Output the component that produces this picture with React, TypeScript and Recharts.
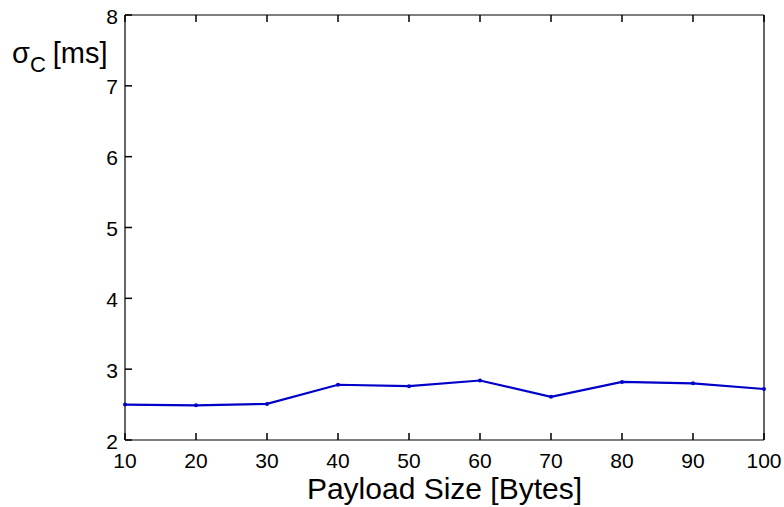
import React from 'react';
import { LineChart, Line, XAxis, YAxis } from 'recharts';

// payload size [bytes]
const payloadSizes = [10, 20, 30, 40, 50, 60, 70, 80, 90, 100];
// sigma_C [ms]
const sigmaC = [2.5, 2.49, 2.51, 2.78, 2.76, 2.84, 2.61, 2.82, 2.8, 2.72];

const xTicks = [10, 20, 30, 40, 50, 60, 70, 80, 90, 100];
const yTicks = [2, 3, 4, 5, 6, 7, 8];

const data = payloadSizes.map((size, i) => ({ size, sigma: sigmaC[i] }));

const FONT = '"Liberation Sans", Arial, Helvetica, sans-serif';
const LINE_COLOR = '#0000c8';
const TICK_LEN = 7;
const axisLine = { stroke: '#000', strokeWidth: 1.2 };

// MATLAB-style ticks: short marks pointing into the plot box
const BottomTick = (props: any) => {
  const { x, y, payload } = props;
  return (
    <g>
      <line x1={x} y1={y} x2={x} y2={y - TICK_LEN} stroke="#000" strokeWidth={1.5} />
      <text x={x} y={y + 28} textAnchor="middle" fontFamily={FONT} fontSize={21} fill="#000">
        {payload.value}
      </text>
    </g>
  );
};

const TopTick = (props: any) => {
  const { x, y } = props;
  return <line x1={x} y1={y} x2={x} y2={y + TICK_LEN} stroke="#000" strokeWidth={1.5} />;
};

const LeftTick = (props: any) => {
  const { x, y, payload } = props;
  return (
    <g>
      <line x1={x} y1={y} x2={x + TICK_LEN} y2={y} stroke="#000" strokeWidth={1.5} />
      <text x={x - 7} y={y + 8.5} textAnchor="end" fontFamily={FONT} fontSize={21} fill="#000">
        {payload.value}
      </text>
    </g>
  );
};

const RightTick = (props: any) => {
  const { x, y } = props;
  return <line x1={x} y1={y} x2={x - TICK_LEN} y2={y} stroke="#000" strokeWidth={1.5} />;
};

const YLabel = () => (
  <text x={12} y={63} fontFamily={FONT} fontSize={29} fill="#000">
    <tspan>σ</tspan>
    <tspan fontSize={22} dy={9}>C</tspan>
    <tspan dy={-9} dx={7}>[ms]</tspan>
  </text>
);

export default function App() {
  return (
    <div style={{ position: 'absolute', left: 0, top: 0, background: '#fff' }}>
      <LineChart
        width={784}
        height={507}
        data={data}
        margin={{ top: 14, right: 19, bottom: 0, left: 0 }}
      >
        <XAxis
          xAxisId="bottom"
          dataKey="size"
          type="number"
          domain={[10, 100]}
          ticks={xTicks}
          height={67}
          axisLine={axisLine}
          tickLine={false}
          tickSize={0}
          tickMargin={0}
          tick={<BottomTick />}
          label={{
            value: 'Payload Size [Bytes]',
            position: 'insideBottom',
            offset: 8,
            fill: '#000',
            fontSize: 30,
            fontFamily: FONT,
          }}
        />
        <XAxis
          xAxisId="top"
          orientation="top"
          dataKey="size"
          type="number"
          domain={[10, 100]}
          ticks={xTicks}
          height={1}
          axisLine={axisLine}
          tickLine={false}
          tickSize={0}
          tickMargin={0}
          tick={<TopTick />}
        />
        <YAxis
          yAxisId="left"
          type="number"
          domain={[2, 8]}
          ticks={yTicks}
          width={125}
          axisLine={axisLine}
          tickLine={false}
          tickSize={0}
          tickMargin={0}
          tick={<LeftTick />}
          label={{ content: <YLabel /> }}
        />
        <YAxis
          yAxisId="right"
          orientation="right"
          type="number"
          domain={[2, 8]}
          ticks={yTicks}
          width={1}
          axisLine={axisLine}
          tickLine={false}
          tickSize={0}
          tickMargin={0}
          tick={<RightTick />}
        />
        <Line
          xAxisId="bottom"
          yAxisId="left"
          dataKey="sigma"
          type="linear"
          stroke={LINE_COLOR}
          strokeWidth={2.2}
          dot={{ r: 2, fill: LINE_COLOR, stroke: LINE_COLOR, strokeWidth: 0 }}
          isAnimationActive={false}
        />
      </LineChart>
    </div>
  );
}
